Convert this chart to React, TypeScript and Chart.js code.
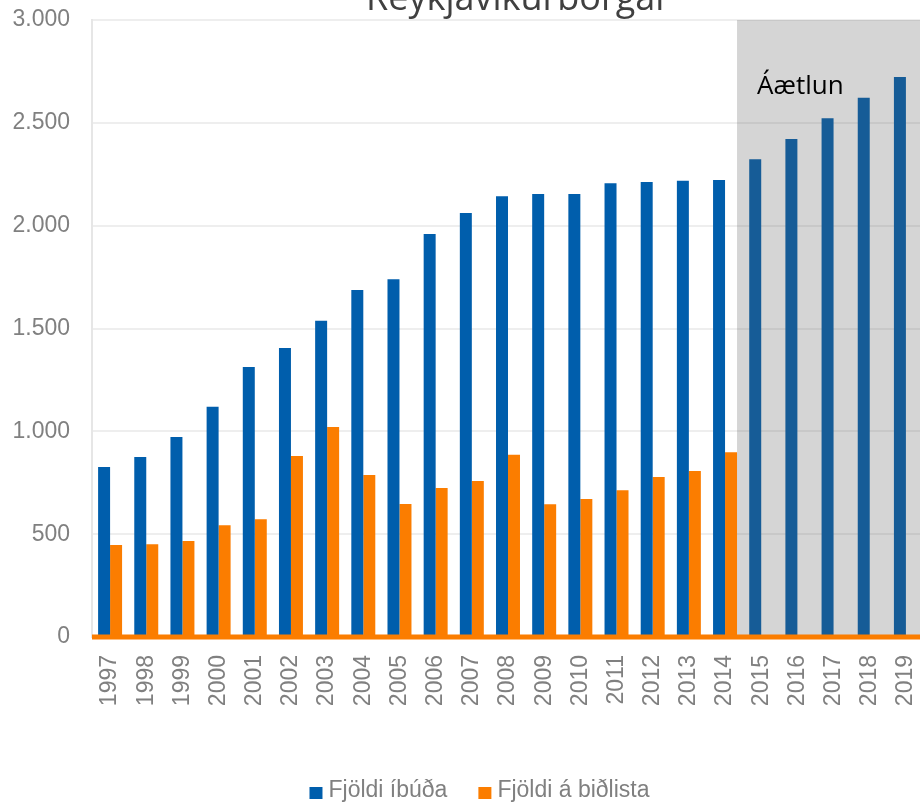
import React, { useEffect, useRef } from "react";
import { Chart, registerables } from "chart.js";

Chart.register(...registerables);

// Years on the category axis
const years = [
  "1997", "1998", "1999", "2000", "2001", "2002", "2003", "2004", "2005", "2006", "2007", "2008",
  "2009", "2010", "2011", "2012", "2013", "2014", "2015", "2016", "2017", "2018", "2019",
];

// Number of dwellings (2015 onwards is the plan)
const dwellings = [
  827, 875, 972, 1120, 1313, 1405, 1538, 1687, 1739, 1960, 2062, 2143,
  2154, 2154, 2206, 2212, 2219, 2222, 2323, 2421, 2522, 2622, 2723,
];

// Number on the waiting list (no figures for the planned years)
const waitingList = [
  447, 451, 467, 543, 572, 880, 1021, 788, 647, 724, 758, 886,
  645, 671, 713, 778, 807, 898, 0, 0, 0, 0, 0,
];

const yTicks = [0, 500, 1000, 1500, 2000, 2500, 3000];
const seriesLabels = ["Fjöldi íbúða", "Fjöldi á biðlista"];
const seriesColors = ["#005eac", "#fb7d00"];
const chartTitle = "Reykjavíkurborgar";
const forecastLabel = "Áætlun";
const forecastFrom = "2015";

const AXIS_FONT = "'Liberation Sans', Arial, sans-serif";
const TEXT_GRAY = "#808080";

const fmt = (v: number) => String(v).replace(/\B(?=(\d{3})+(?!\d))/g, ".");

const decorations = {
  id: "decorations",
  beforeDraw(chart: any) {
    const { ctx, width, height } = chart;
    ctx.save();
    ctx.fillStyle = "#ffffff";
    ctx.fillRect(0, 0, width, height);
    ctx.restore();
  },
  afterDatasetsDraw(chart: any) {
    const { ctx, chartArea } = chart;
    const idx = years.indexOf(forecastFrom);
    const prev = chart.getDatasetMeta(1).data[idx - 1];
    const left = prev.x + prev.width / 2;
    ctx.save();
    // shaded plan period
    ctx.fillStyle = "rgba(88,88,88,0.25)";
    ctx.fillRect(left, chartArea.top, chartArea.right - left, chartArea.bottom - chartArea.top);
    // orange base line
    ctx.strokeStyle = seriesColors[1];
    ctx.lineWidth = 5;
    ctx.beginPath();
    ctx.moveTo(chartArea.left, chartArea.bottom);
    ctx.lineTo(chartArea.right, chartArea.bottom);
    ctx.stroke();
    // plan label
    ctx.fillStyle = "#000000";
    ctx.font = "26px 'Open Sans', sans-serif";
    ctx.textAlign = "left";
    ctx.textBaseline = "alphabetic";
    ctx.fillText(forecastLabel, left + 20, chartArea.top + 74);
    ctx.restore();
  },
  afterDraw(chart: any) {
    const { ctx, chartArea } = chart;
    ctx.save();
    // title
    ctx.fillStyle = "#404040";
    ctx.font = "36px 'Open Sans', sans-serif";
    ctx.textAlign = "center";
    ctx.textBaseline = "alphabetic";
    ctx.fillText(chartTitle, (chartArea.left + chartArea.right) / 2 + 10, 10);

    // legend
    ctx.font = `23px ${AXIS_FONT}`;
    const box = 13;
    const boxGap = 6;
    const itemGap = 31;
    const widths = seriesLabels.map((l) => box + boxGap + ctx.measureText(l).width);
    const total = widths.reduce((a, b) => a + b, 0) + itemGap * (widths.length - 1);
    let x = 479.5 - total / 2;
    const baseline = 797;
    seriesLabels.forEach((label, i) => {
      ctx.fillStyle = seriesColors[i];
      ctx.fillRect(x, baseline - 10, box, 12);
      ctx.fillStyle = TEXT_GRAY;
      ctx.textAlign = "left";
      ctx.fillText(label, x + box + boxGap, baseline);
      x += widths[i] + itemGap;
    });
    ctx.restore();
  },
};

export default function App() {
  const ref = useRef<HTMLCanvasElement>(null);

  useEffect(() => {
    if (!ref.current) return;
    const chart = new Chart(ref.current, {
      type: "bar",
      data: {
        labels: years,
        datasets: [
          {
            label: seriesLabels[0],
            data: dwellings,
            backgroundColor: seriesColors[0],
            categoryPercentage: 0.663,
            barPercentage: 1,
          },
          {
            label: seriesLabels[1],
            data: waitingList,
            backgroundColor: seriesColors[1],
            categoryPercentage: 0.663,
            barPercentage: 1,
          },
        ],
      },
      options: {
        responsive: false,
        animation: false,
        devicePixelRatio: 1,
        layout: { padding: { top: 20, right: 6, left: 0, bottom: 0 } },
        plugins: {
          legend: { display: false },
          title: { display: false },
          tooltip: { enabled: false },
        },
        scales: {
          x: {
            grid: { display: false },
            border: { display: false },
            ticks: {
              autoSkip: false,
              minRotation: 90,
              maxRotation: 90,
              padding: 10,
              color: TEXT_GRAY,
              font: { family: AXIS_FONT, size: 23 },
            },
            afterFit: (scale: any) => {
              scale.height = 169;
              scale.paddingLeft = 0;
              scale.paddingRight = 0;
            },
          },
          y: {
            min: 0,
            max: 3000,
            afterBuildTicks: (scale: any) => {
              scale.ticks = yTicks.map((v) => ({ value: v }));
            },
            grid: { color: "#eeeeee", lineWidth: 2, drawTicks: false },
            border: { display: true, color: "#e6e6e6", width: 2 },
            ticks: {
              padding: 22,
              color: TEXT_GRAY,
              font: { family: AXIS_FONT, size: 23 },
              callback: (v: any) => fmt(Number(v)),
            },
            afterFit: (scale: any) => {
              scale.width = 92;
              scale.paddingTop = 0;
              scale.paddingBottom = 0;
            },
          },
        },
      },
      plugins: [decorations],
    });
    return () => chart.destroy();
  }, []);

  return (
    <div
      style={{
        position: "fixed",
        left: 0,
        top: 0,
        width: 920,
        height: 806,
        overflow: "hidden",
        background: "#ffffff",
      }}
    >
      <canvas ref={ref} width={930} height={806} style={{ display: "block" }} />
    </div>
  );
}
